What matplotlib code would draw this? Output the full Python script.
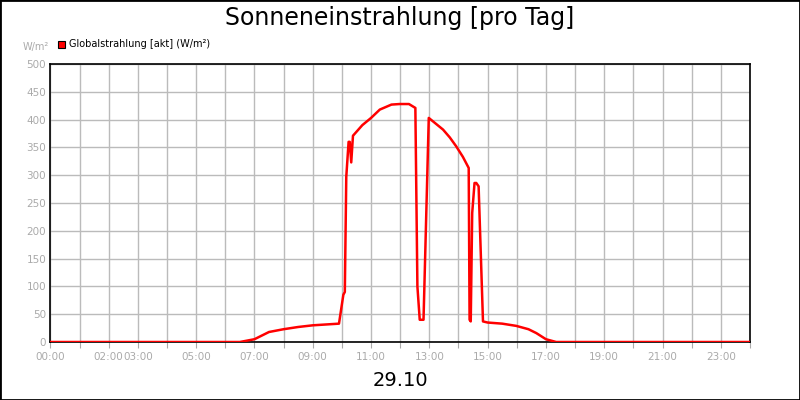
import matplotlib
matplotlib.use("Agg")
import matplotlib.pyplot as plt
from matplotlib.patches import Rectangle

hours = [0, 6.5, 7.0, 7.5, 8.0, 8.5, 9.0, 9.9, 10.05, 10.1, 10.15, 10.23, 10.27, 10.32, 10.38, 10.7, 11.0, 11.3, 11.7,
         11.98, 12.3, 12.52, 12.59, 12.67, 12.8, 12.98, 13.12, 13.47, 13.7, 13.92, 14.15, 14.35, 14.38, 14.42, 14.47,
         14.55, 14.61, 14.69, 14.84, 15.0, 15.5, 15.98, 16.4, 16.67, 17.0, 17.35, 24.0]
values = [0, 0, 5, 18, 23, 27, 30, 33, 85, 90, 297, 360, 360, 323, 371, 390, 403, 418, 427,
          428, 428, 421, 100, 40, 40, 403, 397, 382, 368, 352, 333, 313, 40, 37, 232,
          286, 286, 280, 37, 35, 33, 29, 23, 16, 5, 0, 0]
tick_hours = list(range(25))
label_hours = [0, 2, 3, 5, 7, 9, 11, 13, 15, 17, 19, 21, 23]
yticks = list(range(0, 501, 50))

fig = plt.figure(figsize=(8, 4), dpi=100)
fig.patches.append(Rectangle((0, 0), 1, 1, transform=fig.transFigure, fill=False,
                             edgecolor="black", linewidth=2))
ax = fig.add_axes([0.063, 0.145, 0.8745, 0.695])
ax.plot(hours, values, color="#ff0000", linewidth=1.8, zorder=3)
ax.set_xlim(0, 24)
ax.set_ylim(0, 500)
ax.set_xticks(tick_hours)
ax.set_xticklabels([f"{h:02d}:00" if h in label_hours else "" for h in tick_hours])
ax.set_yticks(yticks)
ax.grid(True, color="#bbbbbb", linewidth=1)
ax.tick_params(colors="#aaaaaa", labelsize=7.5, length=4, labelcolor="#aaaaaa")
ax.tick_params(axis="y", length=0, pad=3)
for s in ax.spines.values():
    s.set_color("black")
    s.set_linewidth(1.2)

fig.text(0.5, 0.955, "Sonneneinstrahlung [pro Tag]", ha="center", va="center", fontsize=17)
fig.text(0.5, 0.048, "29.10", ha="center", va="center", fontsize=14)
fig.text(0.028, 0.882, "W/m²", ha="left", va="center", fontsize=7, color="#aaaaaa")
fig.patches.append(Rectangle((0.0725, 0.88), 0.009, 0.018, transform=fig.transFigure,
                             facecolor="#ff0000", edgecolor="black", linewidth=0.8))
fig.text(0.086, 0.889, "Globalstrahlung [akt] (W/m²)", ha="left", va="center", fontsize=7)

fig.savefig("out.png", dpi=100)
